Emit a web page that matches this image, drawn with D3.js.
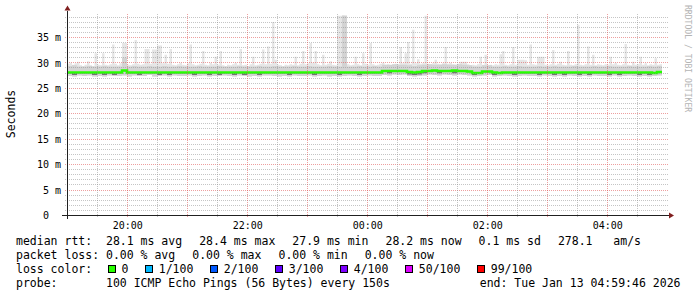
<!DOCTYPE html>
<html>
<head>
<meta charset="utf-8">
<script src="https://cdn.jsdelivr.net/npm/d3@7"></script>
<style>
body { margin: 0; background: #fff; }
svg text { font-family: "DejaVu Sans Mono", monospace; white-space: pre; }
</style>
</head>
<body>
<svg id="chart" width="697" height="297"></svg>
<script>
/* --------------------------------------------
 * smokeping style latency graph
 * ============================================
 */

// ==================================
// data
// ==================================
var END_TIME = new Date(2026, 0, 13, 4, 59, 46);
var SPAN = 10 * 3600;      // seconds on the time axis
var FINE_STEP = 150;       // seconds per maxRtt sample
var STEP = 300;            // seconds per median / band sample

// highest ping of each 150s round (ms)
var maxRtt = [
	29.8, 30.0, 29.6, 29.9, 30.2, 29.5, 29.4, 29.6, 30.3, 29.5,
	29.4, 31.9, 29.6, 29.5, 31.9, 29.6, 29.5, 29.7, 33.6, 29.8,
	29.5, 29.9, 33.9, 33.9, 29.6, 29.5, 29.7, 34.5, 29.8, 29.6,
	29.7, 32.7, 32.7, 29.8, 32.6, 32.6, 33.4, 33.4, 29.9, 31.6,
	29.8, 32.7, 29.6, 29.5, 29.7, 30.0, 29.6, 29.5, 29.9, 33.6,
	29.7, 29.5, 29.6, 29.8, 32.3, 29.6, 29.5, 30.0, 29.7, 31.2,
	29.6, 32.3, 29.5, 29.4, 29.6, 29.5, 29.7, 30.0, 29.6, 32.7,
	29.5, 29.6, 29.4, 29.7, 31.2, 29.5, 29.6, 29.8, 32.6, 29.7,
	33.2, 29.8, 38.0, 30.6, 29.6, 29.5, 29.4, 29.6, 29.5, 29.7,
	29.6, 31.2, 29.5, 29.8, 32.3, 29.7, 29.9, 33.9, 30.0, 32.3,
	29.7, 29.5, 31.6, 29.6, 29.8, 30.3, 29.6, 29.5, 39.3, 39.3,
	39.4, 29.8, 29.7, 29.5, 29.6, 31.2, 29.7, 29.5, 31.9, 29.8,
	29.6, 33.9, 29.7, 29.5, 29.6, 29.8, 30.0, 29.6, 29.7, 29.5,
	29.6, 29.8, 29.7, 33.1, 29.9, 31.9, 34.1, 29.8, 36.5, 29.9,
	30.7, 29.8, 29.9, 39.3, 29.8, 29.7, 29.9, 30.6, 29.8, 29.7,
	29.9, 33.1, 29.8, 30.0, 29.7, 29.6, 29.8, 30.2, 30.2, 30.2,
	29.7, 29.5, 29.6, 29.5, 29.7, 31.2, 29.6, 31.6, 29.5, 29.6,
	29.5, 29.7, 29.6, 31.7, 32.3, 29.6, 29.5, 29.7, 33.1, 29.6,
	30.6, 30.6, 30.6, 30.5, 29.6, 33.6, 29.7, 29.6, 31.2, 31.2,
	31.2, 29.6, 29.5, 29.7, 32.5, 29.6, 29.8, 30.2, 29.6, 29.5,
	32.3, 29.6, 29.5, 29.7, 37.5, 29.6, 29.5, 29.7, 33.2, 29.6,
	31.6, 29.5, 29.7, 29.6, 29.5, 29.7, 29.6, 31.2, 29.7, 30.0,
	29.6, 29.5, 29.7, 33.7, 29.6, 29.5, 30.2, 29.6, 29.7, 31.2,
	29.6, 29.9, 29.5, 29.7, 29.6, 30.9, 29.6, 29.7
];

// upper edge of the denser smoke (ms), one per 300s
var upRtt = [
	29.4, 29.5, 29.3, 29.3, 29.4, 29.3, 29.3, 29.4, 29.3, 29.3,
	29.3, 31.0, 29.3, 29.4, 29.3, 29.3, 29.4, 29.3, 29.3, 29.4,
	29.3, 29.3, 29.4, 29.3, 29.3, 29.3, 29.4, 29.3, 29.3, 29.3,
	29.4, 29.3, 29.3, 29.3, 29.4, 29.3, 29.3, 29.3, 29.4, 29.3,
	29.3, 29.4, 29.3, 29.3, 29.3, 29.4, 29.3, 29.3, 29.4, 29.3,
	29.3, 29.3, 29.4, 29.3, 29.3, 39.4, 29.3, 29.3, 29.4, 29.3,
	29.3, 29.4, 29.3, 29.6, 29.6, 29.7, 29.6, 29.6, 29.5, 29.4,
	29.5, 29.6, 29.7, 29.6, 29.6, 29.7, 29.6, 29.6, 29.7, 29.6,
	29.5, 29.3, 29.3, 29.5, 29.5, 29.3, 29.3, 29.4, 29.3, 29.3,
	29.4, 29.3, 29.3, 29.3, 29.4, 29.3, 29.3, 29.4, 29.3, 29.3,
	29.3, 29.4, 29.3, 29.3, 29.3, 29.4, 29.3, 29.3, 29.4, 29.3,
	29.3, 29.3, 29.4, 29.3, 29.3, 29.3, 29.4, 29.3, 29.4
];

// median rtt (ms), one per 300s
var medRtt = [
	28.1, 28.1, 28.1, 28.1, 28.1, 28.1, 28.1, 28.1, 28.1, 28.1,
	28.1, 28.5, 28.1, 28.1, 28.1, 28.1, 28.1, 28.1, 28.1, 28.1,
	28.1, 28.1, 28.1, 28.1, 28.1, 28.1, 28.1, 28.1, 28.1, 28.1,
	28.1, 28.1, 28.1, 28.1, 28.1, 28.1, 28.1, 28.1, 28.1, 28.1,
	28.1, 28.1, 28.1, 28.1, 28.1, 28.1, 28.1, 28.1, 28.1, 28.1,
	28.1, 28.1, 28.1, 28.1, 28.1, 28.1, 28.1, 28.1, 28.1, 28.1,
	28.1, 28.1, 28.1, 28.4, 28.4, 28.4, 28.4, 28.4, 28.2, 28.1,
	28.2, 28.4, 28.4, 28.5, 28.4, 28.4, 28.4, 28.5, 28.4, 28.4,
	28.3, 28.0, 28.0, 28.3, 28.3, 28.1, 28.0, 28.1, 28.1, 28.1,
	28.1, 28.1, 28.1, 28.1, 28.1, 28.1, 28.1, 28.1, 28.1, 28.1,
	28.1, 28.1, 28.1, 28.1, 28.1, 28.1, 28.1, 28.1, 28.1, 28.1,
	28.1, 28.1, 28.1, 28.1, 28.1, 28.1, 28.1, 28.0, 28.2
];

// lower quartile (ms), one per 300s
var q1Rtt = [
	27.95, 27.6, 27.95, 27.95, 27.95, 27.6, 27.95, 27.6, 27.95, 27.6,
	27.95, 28.35, 27.95, 27.95, 27.6, 27.95, 27.95, 27.95, 27.6, 27.95,
	27.6, 27.95, 27.95, 27.95, 27.95, 27.6, 27.95, 27.95, 27.6, 27.95,
	27.6, 27.95, 27.95, 27.6, 27.95, 27.6, 27.95, 27.95, 27.6, 27.95,
	27.95, 27.95, 27.95, 27.95, 27.6, 27.95, 27.95, 27.95, 27.95, 27.6,
	27.95, 27.95, 27.95, 27.95, 27.6, 27.95, 27.95, 27.95, 27.6, 27.95,
	27.95, 27.95, 27.95, 28.25, 27.95, 28.25, 28.25, 28.25, 27.7, 27.6,
	27.7, 27.95, 28.25, 28.35, 27.95, 28.25, 28.25, 27.95, 28.25, 28.25,
	28.15, 27.6, 27.85, 28.15, 28.15, 27.6, 27.85, 27.95, 27.95, 27.6,
	27.95, 27.95, 27.95, 27.95, 27.6, 27.95, 27.95, 27.6, 27.95, 27.6,
	27.95, 27.95, 27.6, 27.95, 27.6, 27.95, 27.95, 27.95, 27.6, 27.95,
	27.6, 27.95, 27.95, 27.95, 27.6, 27.95, 27.6, 27.85, 28.05
];

// lowest ping (ms), one per 300s
var minRtt = [
	27.4, 27.3, 27.5, 27.4, 27.5, 27.3, 27.4, 27.3, 27.5, 27.4,
	27.4, 27.5, 27.3, 27.5, 27.4, 27.4, 27.6, 27.3, 27.4, 27.5,
	27.3, 27.5, 27.4, 27.4, 27.5, 27.3, 27.4, 27.5, 27.3, 27.4,
	27.4, 27.5, 27.4, 27.3, 27.5, 27.4, 27.3, 27.4, 27.3, 27.5,
	27.5, 27.4, 27.3, 27.4, 27.3, 27.5, 27.4, 27.4, 27.5, 27.3,
	27.4, 27.5, 27.3, 27.4, 27.3, 27.4, 27.5, 27.4, 27.3, 27.4,
	27.5, 27.4, 27.4, 27.6, 27.5, 27.7, 27.6, 27.7, 27.4, 27.3,
	27.4, 27.5, 27.7, 27.6, 27.5, 27.7, 27.6, 27.5, 27.7, 27.6,
	27.5, 27.3, 27.4, 27.5, 27.6, 27.3, 27.4, 27.5, 27.4, 27.3,
	27.4, 27.5, 27.4, 27.4, 27.3, 27.5, 27.4, 27.3, 27.4, 27.3,
	27.5, 27.4, 27.3, 27.4, 27.3, 27.5, 27.4, 27.4, 27.3, 27.5,
	27.3, 27.4, 27.5, 27.4, 27.3, 27.4, 27.3, 27.4, 27.5
];

var yTickValues = [0, 5, 10, 15, 20, 25, 30, 35];
var yTickLabels = ["0  ", "5 m", "10 m", "15 m", "20 m", "25 m", "30 m", "35 m"];
var xTickHours = [20, 22, 0, 2, 4];
var xTickLabels = ["20:00", "22:00", "00:00", "02:00", "04:00"];

var rttStats = ["28.1 ms avg", "28.4 ms max", "27.9 ms min", "28.2 ms now", "0.1 ms sd", "278.1   am/s"];
var lossStats = ["0.00 % avg", "0.00 % max", "0.00 % min", "0.00 % now"];
var lossLabels = ["0", "1/100", "2/100", "3/100", "4/100", "50/100", "99/100"];
var lossColors = ["#26ff00", "#00b8ff", "#0059ff", "#5e00ff", "#7e00ff", "#dd00ff", "#ff0000"];
var probeText = "100 ICMP Echo Pings (56 Bytes) every 150s";
var endText = "end: Tue Jan 13 04:59:46 2026";

// ==================================
// layout
// ==================================
var PLOT_L = 67, PLOT_R = 667, PLOT_T = 15.5, PLOT_B = 215.5;
var Y_MAX = 39.3;
var LEG_X = 16, LEG_FONT = 11.5, CW = 0.602 * LEG_FONT, GAP = 17;

var START_TIME = new Date(+END_TIME - SPAN * 1000);

var svg = d3.select("#chart");
svg.append("rect").attr("width", 697).attr("height", 297).attr("fill", "#fff");

var x = d3.scaleTime().domain([START_TIME, END_TIME]).range([PLOT_L, PLOT_R]);
var y = d3.scaleLinear().domain([0, Y_MAX]).range([PLOT_B, PLOT_T]);

function crisp(v) { return Math.round(v - 0.5) + 0.5; }

// sample times for a series, with one extra point to close the last step
function stepPoints(n, step)
{
	var pts = [];
	for (var i = 0; i < n; i++) pts.push({ t: new Date(+START_TIME + i * step * 1000), i: i });
	pts.push({ t: new Date(+START_TIME + n * step * 1000), i: n - 1 });
	return pts;
}

var finePts = stepPoints(maxRtt.length, FINE_STEP);
var coarsePts = stepPoints(medRtt.length, STEP);

// ==================================
// smoke
// ==================================
svg.append("clipPath").attr("id", "plotClip")
	.append("rect")
	.attr("x", PLOT_L).attr("y", PLOT_T)
	.attr("width", PLOT_R - PLOT_L).attr("height", PLOT_B - PLOT_T);

var plot = svg.append("g").attr("clip-path", "url(#plotClip)");

var lightArea = d3.area().curve(d3.curveStepAfter)
	.x(function(d) { return x(d.t); })
	.y0(function(d) { return y(minRtt[Math.floor(d.i / 2)]); })
	.y1(function(d) { return y(maxRtt[d.i]); });

plot.append("path")
	.attr("d", lightArea(finePts))
	.attr("fill", "#e6e6e6");

var midArea = d3.area().curve(d3.curveStepAfter)
	.x(function(d) { return x(d.t); })
	.y0(function(d) { return y(minRtt[d.i]); })
	.y1(function(d) { return y(upRtt[d.i]); });

plot.append("path")
	.attr("d", midArea(coarsePts))
	.attr("fill", "#d3d3d3");

var darkArea = d3.area().curve(d3.curveStepAfter)
	.x(function(d) { return x(d.t); })
	.y0(function(d) { return y(q1Rtt[d.i]); })
	.y1(function(d) { return y(medRtt[d.i]); });

plot.append("path")
	.attr("d", darkArea(coarsePts))
	.attr("fill", "#747474");

// median, coloured by loss (0 everywhere)
var medLine = d3.line().curve(d3.curveStepAfter)
	.x(function(d) { return x(d.t); })
	.y(function(d) { return y(medRtt[d.i]); });

plot.append("path")
	.attr("d", medLine(coarsePts))
	.attr("fill", "none")
	.attr("stroke", lossColors[0])
	.attr("stroke-width", 2.6);

// ==================================
// grid (rrdtool paints it over the data)
// ==================================
var grid = svg.append("g").attr("shape-rendering", "crispEdges");

var hLines = d3.range(1, Math.floor(Y_MAX) + 1);
grid.selectAll("line.h").data(hLines).enter().append("line")
	.attr("x1", PLOT_L - 2).attr("x2", PLOT_R + 2)
	.attr("y1", function(d) { return crisp(y(d)); })
	.attr("y2", function(d) { return crisp(y(d)); })
	.attr("stroke", function(d) { return d % 5 === 0 ? "rgba(222,80,80,0.55)" : "rgba(140,140,140,0.5)"; })
	.attr("stroke-dasharray", "1,1");

var vLines = d3.timeMinute.every(30).range(START_TIME, END_TIME);
grid.selectAll("line.v").data(vLines).enter().append("line")
	.attr("x1", function(d) { return crisp(x(d)); })
	.attr("x2", function(d) { return crisp(x(d)); })
	.attr("y1", PLOT_T - 2).attr("y2", PLOT_B + 2)
	.attr("stroke", function(d) { return d.getMinutes() === 0 ? "rgba(222,80,80,0.55)" : "rgba(140,140,140,0.5)"; })
	.attr("stroke-dasharray", "1,1");

// ==================================
// axes
// ==================================
var axisG = svg.append("g").attr("shape-rendering", "crispEdges");
axisG.append("line")
	.attr("x1", PLOT_L - 5).attr("x2", PLOT_R + 2)
	.attr("y1", PLOT_B).attr("y2", PLOT_B)
	.attr("stroke", "#202020");
axisG.append("line")
	.attr("x1", PLOT_L + 0.5).attr("x2", PLOT_L + 0.5)
	.attr("y1", PLOT_B + 3).attr("y2", PLOT_T - 5)
	.attr("stroke", "#202020");

svg.append("path")
	.attr("d", "M" + (PLOT_R + 2) + "," + (PLOT_B - 3) + "L" + (PLOT_R + 7) + "," + PLOT_B + "L" + (PLOT_R + 2) + "," + (PLOT_B + 3) + "Z")
	.attr("fill", "#801f1f");
svg.append("path")
	.attr("d", "M" + (PLOT_L + 0.5 - 3) + "," + (PLOT_T - 5) + "L" + (PLOT_L + 0.5) + "," + (PLOT_T - 10) + "L" + (PLOT_L + 0.5 + 3) + "," + (PLOT_T - 5) + "Z")
	.attr("fill", "#801f1f");

var yAxis = d3.axisLeft(y)
	.tickValues(yTickValues)
	.tickFormat(function(d, k) { return yTickLabels[k]; })
	.tickSize(0).tickPadding(0);

var yAxisG = svg.append("g").attr("transform", "translate(61,0)").call(yAxis);
yAxisG.select(".domain").remove();
yAxisG.selectAll("text")
	.attr("xml:space", "preserve")
	.attr("font-family", "DejaVu Sans Mono")
	.attr("font-size", 10)
	.attr("fill", "#000");

var xTickTimes = xTickHours.map(function(h) {
	var day = h >= 12 ? 12 : 13;
	return new Date(2026, 0, day, h, 0, 0);
});

var xAxis = d3.axisBottom(x)
	.tickValues(xTickTimes)
	.tickFormat(function(d, k) { return xTickLabels[k]; })
	.tickSize(0).tickPadding(0);

var xAxisG = svg.append("g").attr("transform", "translate(0,221.5)").call(xAxis);
xAxisG.select(".domain").remove();
xAxisG.selectAll("text")
	.attr("font-family", "DejaVu Sans Mono")
	.attr("font-size", 10)
	.attr("fill", "#000");

// vertical title and watermark
svg.append("text")
	.attr("transform", "translate(14.5,114) rotate(-90)")
	.attr("text-anchor", "middle")
	.attr("font-size", LEG_FONT)
	.text("Seconds");

svg.append("text")
	.attr("transform", "translate(685,5) rotate(90)")
	.attr("font-size", 8.1)
	.attr("fill", "#b4b4b4")
	.text("RRDTOOL / TOBI OETIKER");

// ==================================
// legend
// ==================================
var legend = svg.append("g")
	.attr("font-size", LEG_FONT)
	.attr("fill", "#000");

function legendLine(baseline, head, items)
{
	legend.append("text").attr("x", LEG_X).attr("y", baseline)
		.attr("xml:space", "preserve").text(head);
	var cx = LEG_X + head.length * CW;
	items.forEach(function(s) {
		legend.append("text").attr("x", cx).attr("y", baseline)
			.attr("xml:space", "preserve").text(s);
		cx += s.length * CW + GAP;
	});
}

legendLine(245, "median rtt:  ", rttStats);
legendLine(259, "packet loss: ", lossStats);

// loss colour boxes
legend.append("text").attr("x", LEG_X).attr("y", 273)
	.attr("xml:space", "preserve").text("loss color:  ");
var bx = LEG_X + 13 * CW + 2;
lossLabels.forEach(function(lbl, k) {
	legend.append("rect")
		.attr("x", Math.round(bx) + 0.5).attr("y", 265.5)
		.attr("width", 7).attr("height", 7)
		.attr("fill", lossColors[k])
		.attr("stroke", "#000").attr("stroke-width", 1);
	legend.append("text").attr("x", bx + 13.4).attr("y", 273).text(lbl);
	bx += 13.4 + lbl.length * CW + GAP;
});

legend.append("text").attr("x", LEG_X).attr("y", 287).text("probe:");
legend.append("text").attr("x", LEG_X + 13 * CW).attr("y", 287).text(probeText);
legend.append("text").attr("x", 680.5).attr("y", 287)
	.attr("text-anchor", "end").text(endText);
</script>
</body>
</html>
